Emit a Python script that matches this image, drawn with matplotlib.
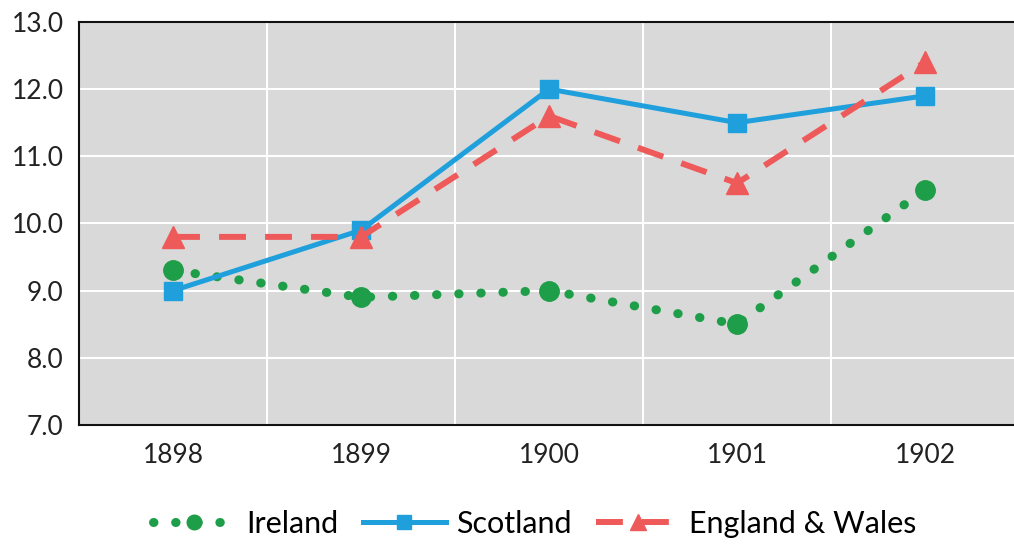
import matplotlib.pyplot as plt
import numpy as np

years = ['1898', '1899', '1900', '1901', '1902']
ireland = [9.3, 8.9, 9.0, 8.5, 10.5]
scotland = [9.0, 9.9, 12.0, 11.5, 11.9]
england = [9.8, 9.8, 11.6, 10.6, 12.4]

plt.rcParams['font.family'] = ['Lato', 'DejaVu Sans']

fig = plt.figure(figsize=(10.14, 5.48), dpi=100)
ax = fig.add_axes([0.078, 0.2245, 0.927, 0.7355])
ax.set_facecolor('#d9d9d9')

x = np.arange(len(years))
ax.plot(x, ireland, color='#1e9e48', linestyle=(0, (0.05, 2.4)), linewidth=6.5,
        dash_capstyle='round', marker='o', markersize=14, label='Ireland')
ax.plot(x, scotland, color='#1fa0dc', linestyle='-', linewidth=3.6,
        marker='s', markersize=13, label='Scotland')
ax.plot(x, england, color='#ee5a5a', linestyle=(0, (4.5, 3.2)), linewidth=4.3,
        marker='^', markersize=16, label='England & Wales')

ax.set_xlim(-0.5, 4.5)
ax.set_ylim(7, 13)
ax.set_xticks(x)
ax.set_xticklabels(years)
ax.set_yticks(np.arange(7, 13.1, 1))
ax.set_yticklabels(['%.1f' % v for v in np.arange(7, 13.1, 1)])
ax.set_xticks(np.arange(0.5, 4, 1), minor=True)
ax.grid(True, which='major', axis='y', color='white', linewidth=1.5)
ax.grid(True, which='minor', axis='x', color='white', linewidth=1.5)
ax.set_axisbelow(True)
ax.tick_params(which='both', length=0, labelsize=19, colors='#222222')
ax.tick_params(axis='x', pad=13)
ax.tick_params(axis='y', pad=11)
for s in ax.spines.values():
    s.set_color('#111111')
    s.set_linewidth(1.5)

ax.legend(loc='upper center', bbox_to_anchor=(0.485, -0.165), ncol=3, frameon=False,
          fontsize=22, markerscale=0.75, handlelength=2.7, columnspacing=0.8,
          handletextpad=0.35, borderaxespad=0.2)

fig.savefig('out.png', dpi=100)
